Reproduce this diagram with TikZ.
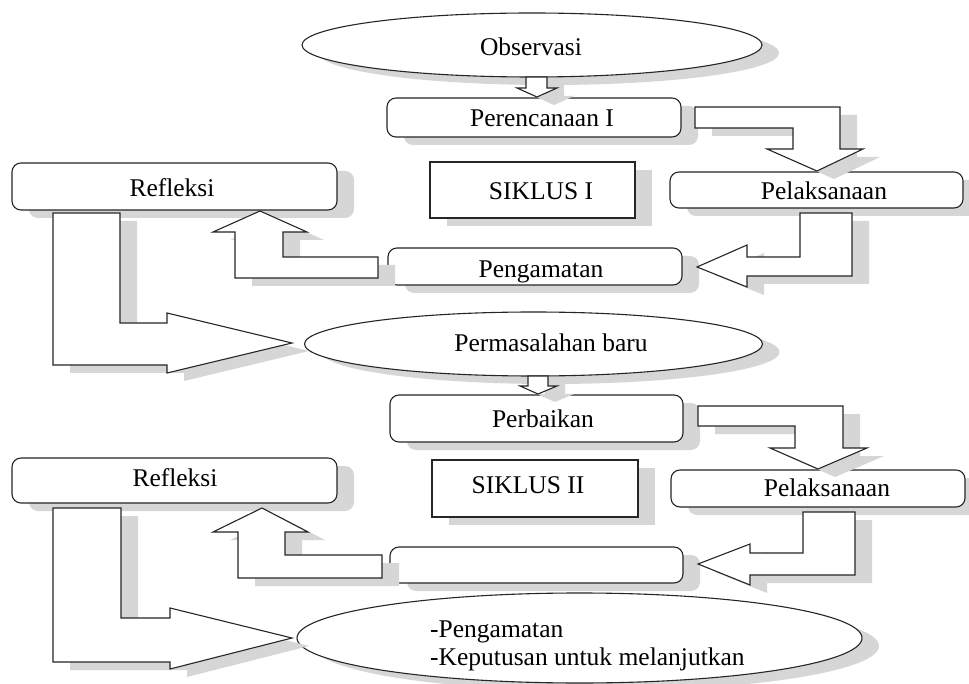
\documentclass[tikz,border=0pt]{standalone}
\usepackage{fontspec}
\setmainfont{Liberation Serif}
\usetikzlibrary{shapes.geometric,shadows}
\begin{document}
\begin{tikzpicture}[x=1pt,y=-1pt,
  shad/.style={drop shadow={shadow xshift=17pt,shadow yshift=-8pt,fill=black!16,opacity=1}},
  rbox/.style={draw=black!85,line width=1.1pt,fill=white,rounded corners=9pt,inner sep=0pt,shad},
  sbox/.style={draw=black!85,line width=1.1pt,fill=white,inner sep=0pt,shad},
  ell/.style={ellipse,draw=black!85,line width=1.1pt,fill=white,inner sep=0pt,shad},
  barrow/.style={draw=black!85,line width=1.1pt,fill=white,line join=miter,shad},
  lbl/.style={font=\fontsize{25.5pt}{28pt}\selectfont,inner sep=0pt,anchor=base}]

\useasboundingbox[fill=white] (0,0) rectangle (969,684);

% ---- shapes ----
\node[ell,minimum width=460pt,minimum height=64pt] (obs) at (532,45) {};
\node[rbox,minimum width=294pt,minimum height=39pt] (per1) at (534,117.5) {};
\node[sbox,minimum width=205pt,minimum height=56pt] (sik1) at (532.5,190) {};
\node[rbox,minimum width=293pt,minimum height=36pt] (pel1) at (816.5,190) {};
\node[rbox,minimum width=325pt,minimum height=47pt] (ref1) at (174.5,186.5) {};
\node[rbox,minimum width=294pt,minimum height=37pt] (peng1) at (535,266.5) {};
\node[ell,minimum width=458pt,minimum height=64pt] (mas) at (533.5,344) {};
\node[rbox,minimum width=293pt,minimum height=47pt] (perb) at (536.5,418.5) {};
\node[sbox,minimum width=206pt,minimum height=57pt] (sik2) at (535,488.5) {};
\node[rbox,minimum width=294pt,minimum height=37pt] (pel2) at (818,488.5) {};
\node[rbox,minimum width=325pt,minimum height=45pt] (ref2) at (174.5,480.5) {};
\node[rbox,minimum width=293pt,minimum height=36pt] (blank) at (536.5,565) {};
\node[ell,minimum width=565pt,minimum height=90pt] (fin) at (579.5,638) {};

% ---- labels ----
\node[lbl] (obsT) at (531,56) {Observasi};
\node[lbl] (per1T) at (542,127) {Perencanaan I};
\node[lbl] (sik1T) at (541,200) {SIKLUS I};
\node[lbl] (pel1T) at (824,200) {Pelaksanaan};
\node[lbl] (ref1T) at (172,197) {Refleksi};
\node[lbl] (peng1T) at (541,278) {Pengamatan};
\node[lbl] (masT) at (551,352) {Permasalahan baru};
\node[lbl] (perbT) at (543,427) {Perbaikan};
\node[lbl] (sik2T) at (528,493) {SIKLUS II};
\node[lbl] (pel2T) at (827,496) {Pelaksanaan};
\node[lbl] (ref2T) at (175,486) {Refleksi};
\node[lbl,anchor=base west] (finT1) at (430,637) {-Pengamatan};
\node[lbl,anchor=base west] (finT2) at (430,665) {-Keputusan untuk melanjutkan};

% ---- block arrows, cycle I ----
\draw[barrow] (526,77) -- (547,77) -- (547,88) -- (557,88) -- (537,97) -- (517,88) -- (526,88) -- cycle;
\draw[barrow] (695,107) -- (840,107) -- (840,149) -- (863,149) -- (817,171) -- (767,149) -- (793,149) -- (793,128) -- (695,128) -- cycle;
\draw[barrow] (800,213) -- (852,213) -- (852,276) -- (747,276) -- (747,287) -- (697,267) -- (747,245) -- (747,257) -- (800,257) -- cycle;
\draw[barrow] (378,257) -- (283,257) -- (283,232) -- (307,232) -- (260,211) -- (213,232) -- (235,232) -- (235,278) -- (378,278) -- cycle;
\draw[barrow] (53,213) -- (120,213) -- (120,323) -- (167,323) -- (167,313) -- (292,343) -- (167,373) -- (167,365) -- (53,365) -- cycle;

% ---- block arrows, cycle II ----
\draw[barrow] (528,376) -- (548,376) -- (548,386) -- (557,386) -- (538,394) -- (520,386) -- (528,386) -- cycle;
\draw[barrow] (698,406) -- (843,406) -- (843,448) -- (867,448) -- (818,469) -- (770,448) -- (795,448) -- (795,426) -- (698,426) -- cycle;
\draw[barrow] (803,512) -- (855,512) -- (855,575) -- (750,575) -- (750,585) -- (698,564) -- (750,544) -- (750,553) -- (803,553) -- cycle;
\draw[barrow] (382,555) -- (285,555) -- (285,532) -- (308,532) -- (262,508) -- (213,532) -- (238,532) -- (238,578) -- (382,578) -- cycle;
\draw[barrow] (53,508) -- (121,508) -- (121,618) -- (170,618) -- (170,608) -- (292,638) -- (170,669) -- (170,662) -- (53,662) -- cycle;
\end{tikzpicture}
\end{document}
